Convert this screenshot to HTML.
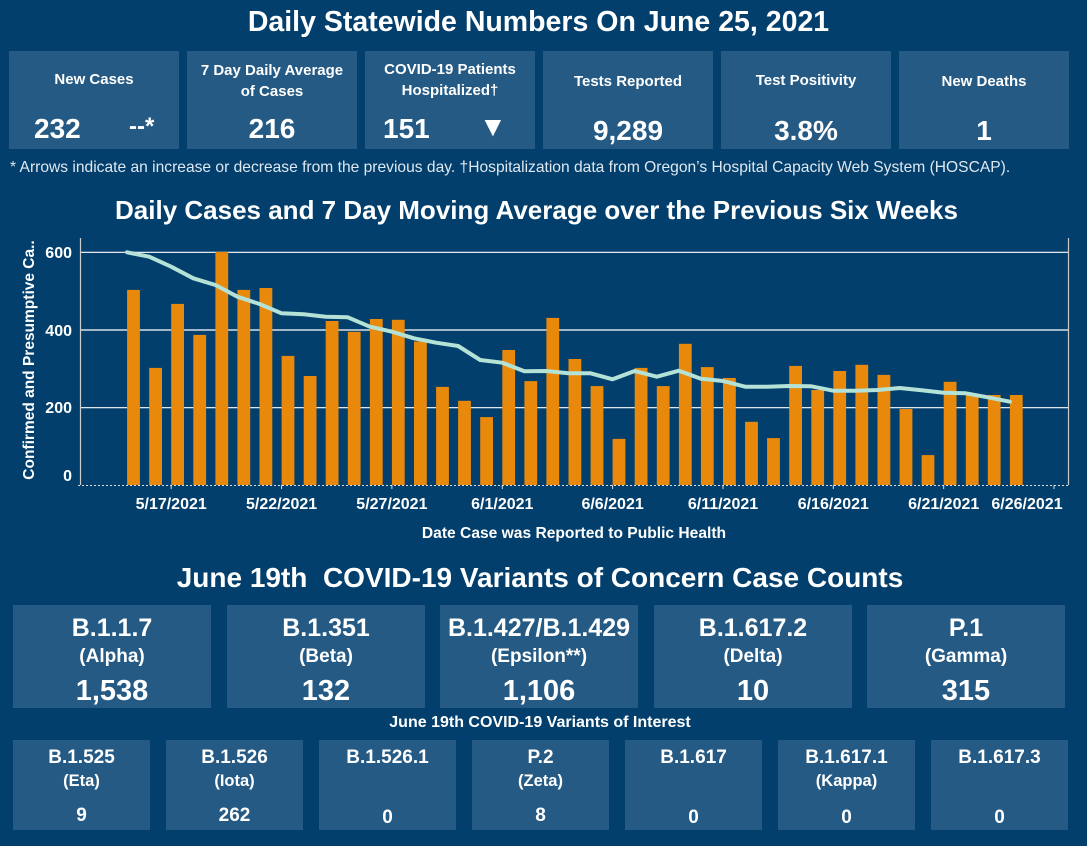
<!DOCTYPE html>
<html><head><meta charset="utf-8"><style>
body{margin:0;width:1087px;height:846px;background:#023f6c;font-family:"Liberation Sans",sans-serif;color:#fff;position:relative;overflow:hidden}
.a{position:absolute;text-align:center;font-weight:bold;white-space:nowrap}
.c{position:absolute;background:#245a84}
</style></head><body>
<div class="a" style="left:0;width:1077px;top:6px;font-size:28.5px">Daily Statewide Numbers On June 25, 2021</div>

<div class="c" style="left:9px;top:51px;width:170px;height:98px"><div class="a" style="left:0;width:170px;top:20px;font-size:15px">New Cases</div><div class="a" style="left:25px;top:62px;font-size:28px">232</div><div class="a" style="left:120px;top:62px;font-size:24px">--*</div></div>
<div class="c" style="left:187px;top:51px;width:170px;height:98px"><div class="a" style="left:0;width:170px;top:9px;font-size:15px;line-height:21px">7 Day Daily Average<br>of Cases</div><div class="a" style="left:0;width:170px;top:62px;font-size:28px">216</div></div>
<div class="c" style="left:365px;top:51px;width:170px;height:98px"><div class="a" style="left:0;width:170px;top:8px;font-size:15px;line-height:21px">COVID-19 Patients<br>Hospitalized†</div><div class="a" style="left:18px;top:62px;font-size:28px">151</div><div class="a" style="left:114px;top:60px;font-size:28px">▼</div></div>
<div class="c" style="left:543px;top:51px;width:170px;height:98px"><div class="a" style="left:0;width:170px;top:22px;font-size:15px">Tests Reported</div><div class="a" style="left:0;width:170px;top:64px;font-size:28px">9,289</div></div>
<div class="c" style="left:721px;top:51px;width:170px;height:98px"><div class="a" style="left:0;width:170px;top:21px;font-size:15px">Test Positivity</div><div class="a" style="left:0;width:170px;top:64px;font-size:28px">3.8%</div></div>
<div class="c" style="left:899px;top:51px;width:170px;height:98px"><div class="a" style="left:0;width:170px;top:22px;font-size:15px">New Deaths</div><div class="a" style="left:0;width:170px;top:64px;font-size:28px">1</div></div>

<div class="a" style="left:10px;top:159px;font-size:15.6px;font-weight:normal;color:#dfe8f0">* Arrows indicate an increase or decrease from the previous day. †Hospitalization data from Oregon’s Hospital Capacity Web System (HOSCAP).</div>
<div class="a" style="left:0;width:1073px;top:195px;font-size:26px">Daily Cases and 7 Day Moving Average over the Previous Six Weeks</div>

<svg style="position:absolute;left:0;top:0" width="1087" height="846">
<g stroke="#fff" stroke-width="1.2"><line x1="80" y1="252.3" x2="1068.5" y2="252.3"/><line x1="80" y1="330" x2="1068.5" y2="330"/><line x1="80" y1="407.7" x2="1068.5" y2="407.7"/></g>
<line x1="80.5" y1="238" x2="80.5" y2="485" stroke="#ccc" stroke-width="1.2"/>
<line x1="1068.5" y1="238" x2="1068.5" y2="485" stroke="#ccc" stroke-width="1.2"/>
<g id="bars" fill="#e8890c"></g>
<line x1="78" y1="485.5" x2="1068" y2="485.5" stroke="#ddd" stroke-width="1" stroke-dasharray="2,2"/>
<polyline id="ln" fill="none" stroke="#b4e2d6" stroke-width="4" stroke-linejoin="round" stroke-linecap="round"/>
<g font-family="Liberation Sans" font-weight="bold" font-size="16" fill="#fff" text-anchor="end"><text x="72" y="258">600</text><text x="72" y="336">400</text><text x="72" y="413">200</text><text x="72" y="481">0</text></g>
<text transform="translate(34,360) rotate(-90)" text-anchor="middle" font-family="Liberation Sans" font-weight="bold" font-size="15.5" fill="#fff">Confirmed and Presumptive Ca..</text>
<g id="tx" font-family="Liberation Sans" font-weight="bold" font-size="16" fill="#fff" text-anchor="middle"></g>
<text x="574" y="538" text-anchor="middle" font-family="Liberation Sans" font-weight="bold" font-size="15.6" fill="#fff">Date Case was Reported to Public Health</text>
</svg>

<div class="a" style="left:0;width:1080px;top:562px;font-size:28px">June 19th&nbsp; COVID-19 Variants of Concern Case Counts</div>

<div class="c" style="left:13px;top:605px;width:198px;height:103px"><div class="a" style="width:198px;top:9px;font-size:25px">B.1.1.7</div><div class="a" style="width:198px;top:41px;font-size:19px">(Alpha)</div><div class="a" style="width:198px;top:70px;font-size:29px">1,538</div></div>
<div class="c" style="left:227px;top:605px;width:198px;height:103px"><div class="a" style="width:198px;top:9px;font-size:25px">B.1.351</div><div class="a" style="width:198px;top:41px;font-size:19px">(Beta)</div><div class="a" style="width:198px;top:70px;font-size:29px">132</div></div>
<div class="c" style="left:440px;top:605px;width:198px;height:103px"><div class="a" style="width:198px;top:9px;font-size:25px">B.1.427/B.1.429</div><div class="a" style="width:198px;top:41px;font-size:19px">(Epsilon**)</div><div class="a" style="width:198px;top:70px;font-size:29px">1,106</div></div>
<div class="c" style="left:654px;top:605px;width:198px;height:103px"><div class="a" style="width:198px;top:9px;font-size:25px">B.1.617.2</div><div class="a" style="width:198px;top:41px;font-size:19px">(Delta)</div><div class="a" style="width:198px;top:70px;font-size:29px">10</div></div>
<div class="c" style="left:867px;top:605px;width:198px;height:103px"><div class="a" style="width:198px;top:9px;font-size:25px">P.1</div><div class="a" style="width:198px;top:41px;font-size:19px">(Gamma)</div><div class="a" style="width:198px;top:70px;font-size:29px">315</div></div>

<div class="a" style="left:0;width:1080px;top:714px;font-size:16px">June 19th COVID-19 Variants of Interest</div>

<div id="sm"></div>
<script>
var v=[503,302,467,387,601,503,508,333,281,423,395,428,426,370,253,217,175,348,268,431,325,255,119,302,255,364,304,276,163,121,307,245,294,310,284,196,77,266,232,232,232];
var ly=[67,80,110,145,165,200,222,250,253,260,262,290,305,325,338,348,390,398,424,423,430,430,448,423,440,422,446,453,470,470,468,469,482,482,480,474,481,488,490,502,515];
var b='',p=[];
for(var i=0;i<41;i++){var x=127.1+i*22.07,h=v[i]*0.3878;b+='<rect x="'+x.toFixed(1)+'" y="'+(485-h).toFixed(1)+'" width="12.8" height="'+h.toFixed(1)+'"/>';p.push(x.toFixed(1)+','+(230+ly[i]/3).toFixed(1));}
document.getElementById('bars').innerHTML=b;
document.getElementById('ln').setAttribute('points',p.join(' '));
var d=['5/17/2021','5/22/2021','5/27/2021','6/1/2021','6/6/2021','6/11/2021','6/16/2021','6/21/2021','6/26/2021'],t='';
for(var k=0;k<9;k++){var x=127.1+(2+5*k)*22.07;if(k==8)x=1027;t+='<text x="'+x.toFixed(1)+'" y="509">'+d[k]+'</text>';t+='<line x1="'+(127.1+(2+5*k)*22.07).toFixed(1)+'" y1="485" x2="'+(127.1+(2+5*k)*22.07).toFixed(1)+'" y2="489" stroke="#ddd"/>';}
document.getElementById('tx').innerHTML=t;
var s=[['B.1.525','(Eta)','9'],['B.1.526','(Iota)','262'],['B.1.526.1','','0'],['P.2','(Zeta)','8'],['B.1.617','','0'],['B.1.617.1','(Kappa)','0'],['B.1.617.3','','0']],h='';
for(var j=0;j<7;j++){var L=13+j*153,z=s[j][2]=='0'?67:65;h+='<div class="c" style="left:'+L+'px;top:740px;width:137px;height:90px"><div class="a" style="width:137px;top:7px;font-size:19px">'+s[j][0]+'</div><div class="a" style="width:137px;top:32px;font-size:16.5px">'+s[j][1]+'</div><div class="a" style="width:137px;top:'+z+'px;font-size:19px">'+s[j][2]+'</div></div>';}
document.getElementById('sm').innerHTML=h;
</script>
</body></html>
